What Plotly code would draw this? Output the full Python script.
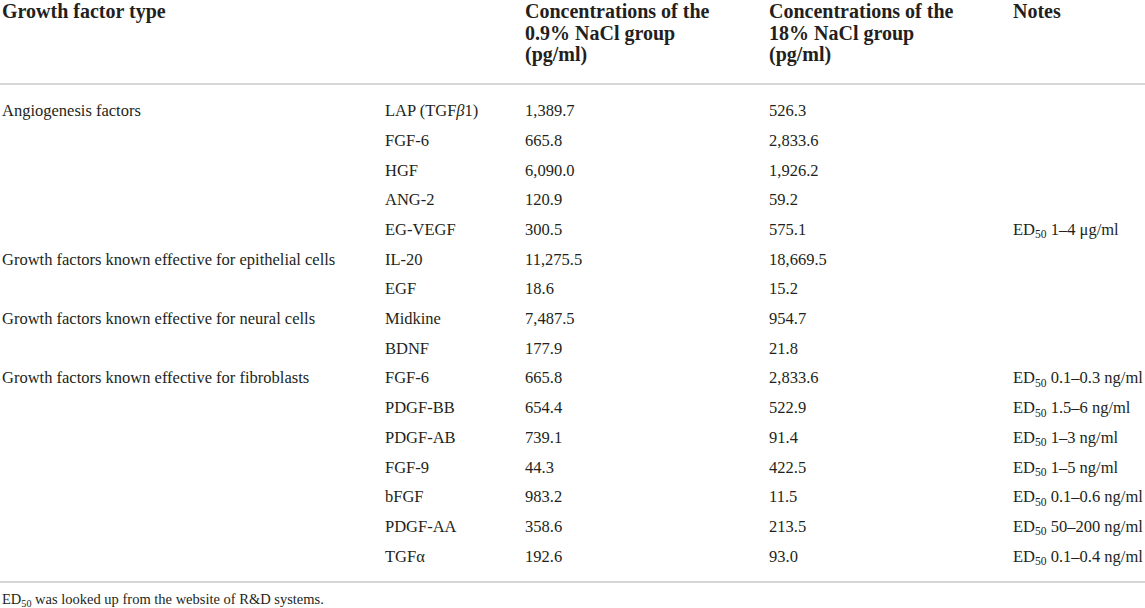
import plotly.graph_objects as go

# table content
groups = [
    "Angiogenesis factors",
    "Growth factors known effective for epithelial cells",
    "Growth factors known effective for neural cells",
    "Growth factors known effective for fibroblasts",
]
group_sizes = [5, 2, 2, 7]

factors = ["LAP (TGF<i>β</i>1)", "FGF-6", "HGF", "ANG-2", "EG-VEGF",
           "IL-20", "EGF",
           "Midkine", "BDNF",
           "FGF-6", "PDGF-BB", "PDGF-AB", "FGF-9", "bFGF", "PDGF-AA", "TGFα"]
nacl_09 = [1389.7, 665.8, 6090.0, 120.9, 300.5,
           11275.5, 18.6,
           7487.5, 177.9,
           665.8, 654.4, 739.1, 44.3, 983.2, 358.6, 192.6]
nacl_18 = [526.3, 2833.6, 1926.2, 59.2, 575.1,
           18669.5, 15.2,
           954.7, 21.8,
           2833.6, 522.9, 91.4, 422.5, 11.5, 213.5, 93.0]
notes = ["", "", "", "", "1–4 μg/ml",
         "", "",
         "", "",
         "0.1–0.3 ng/ml", "1.5–6 ng/ml", "1–3 ng/ml", "1–5 ng/ml",
         "0.1–0.6 ng/ml", "50–200 ng/ml", "0.1–0.4 ng/ml"]

headers = [["Growth factor type"], [],
           ["Concentrations of the", "0.9% NaCl group", "(pg/ml)"],
           ["Concentrations of the", "18% NaCl group", "(pg/ml)"],
           ["Notes"]]
footnote = "ED<sub>50</sub> was looked up from the website of R&D systems."

# layout constants (pixels / row units)
W, H = 1145, 608
ROW0, ROWH = 112, 29.7
COL_X = [2, 385, 525, 769, 1013]
HEAD_Y = [11, 33, 54]
TXT = "#231f20"
RULE = "#c9c9c9"
FONT = "Liberation Serif"


def row_to_y(px):
    return (px - ROW0) / ROWH


rows = list(range(len(factors)))
group_rows = []
r = 0
for n in group_sizes:
    group_rows.append(r)
    r += n

fig = go.Figure()

body_font = dict(family=FONT, size=16.5, color=TXT)


def text_col(x, ys, texts):
    fig.add_trace(go.Scatter(x=[x] * len(ys), y=ys, text=texts,
                             mode="text", textposition="middle right",
                             textfont=body_font, hoverinfo="skip"))


text_col(COL_X[0], group_rows, groups)
text_col(COL_X[1], rows, factors)
text_col(COL_X[2], rows, [f"{v:,.1f}" for v in nacl_09])
text_col(COL_X[3], rows, [f"{v:,.1f}" for v in nacl_18])
note_rows = [i for i, n in enumerate(notes) if n]
text_col(COL_X[4], note_rows, [f"ED<sub>50</sub> {notes[i]}" for i in note_rows])

# header
for cx, lines in zip(COL_X, headers):
    for hy, line in zip(HEAD_Y, lines):
        fig.add_annotation(x=cx, y=row_to_y(hy), text=f"<b>{line}</b>",
                           xanchor="left", yanchor="middle", align="left",
                           showarrow=False, xshift=-2,
                           font=dict(family=FONT, size=20, color=TXT))

# rules
for py in [84, 582]:
    fig.add_shape(type="line", xref="paper", x0=0, x1=1,
                  y0=row_to_y(py), y1=row_to_y(py),
                  line=dict(color=RULE, width=1.5))

fig.add_annotation(x=COL_X[0], y=row_to_y(600), text=footnote,
                   xanchor="left", yanchor="middle", showarrow=False, xshift=-2,
                   font=dict(family=FONT, size=14.5, color=TXT))

fig.update_xaxes(range=[0, W], visible=False, fixedrange=True)
fig.update_yaxes(range=[row_to_y(H), row_to_y(0)], visible=False, fixedrange=True)
fig.update_layout(width=W, height=H, margin=dict(l=0, r=0, t=0, b=0),
                  showlegend=False, plot_bgcolor="white", paper_bgcolor="white")

fig.write_html("out.html", config={"displayModeBar": False},
               post_script="document.body.style.margin='0';document.body.style.overflow='hidden';")
